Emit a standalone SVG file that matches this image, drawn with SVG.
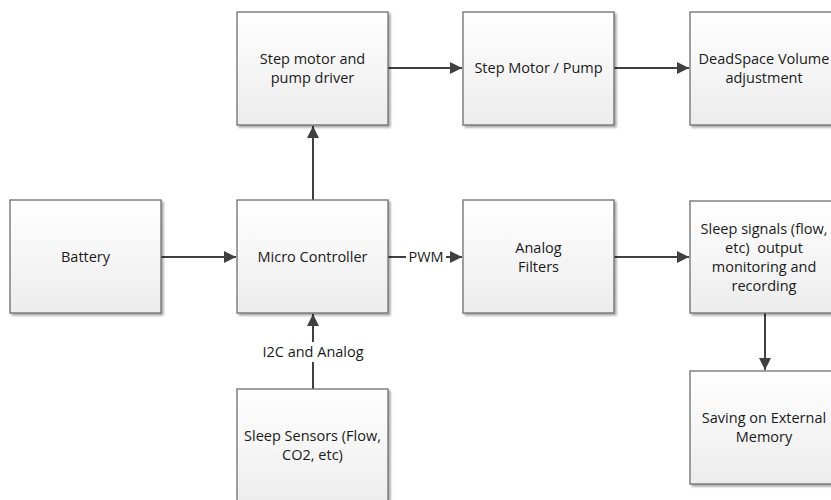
<svg xmlns="http://www.w3.org/2000/svg" width="831" height="500" viewBox="0 0 831 500">
<defs>
<linearGradient id="g" x1="0" y1="0" x2="0" y2="1">
<stop offset="0" stop-color="#ffffff"/>
<stop offset="1" stop-color="#ececec"/>
</linearGradient>
<filter id="sh" x="-10%" y="-10%" width="130%" height="130%">
<feGaussianBlur in="SourceAlpha" stdDeviation="1.2"/>
<feOffset dx="1.5" dy="1.5" result="b"/>
<feComponentTransfer><feFuncA type="linear" slope="0.35"/></feComponentTransfer>
<feMerge><feMergeNode/><feMergeNode in="SourceGraphic"/></feMerge>
</filter>
<marker id="a" viewBox="0 0 10 10" refX="10" refY="5" markerWidth="6" markerHeight="6" orient="auto" markerUnits="strokeWidth">
<path d="M0,0 L10,5 L0,10 z" fill="#404040"/>
</marker>
</defs>
<style>
.box{fill:url(#g);stroke:#6e6e6e;stroke-width:1.3;filter:url(#sh)}
.t{font-family:"Open Sans","Liberation Sans",sans-serif;font-size:14.5px;fill:#1a1a1a;text-anchor:middle}
.c{stroke:#404040;stroke-width:2;fill:none;marker-end:url(#a)}
</style>
<rect width="831" height="500" fill="#ffffff"/>
<g id="connectors">
<line class="c" x1="313" y1="200" x2="313" y2="126"/>
<line class="c" x1="388" y1="68" x2="462" y2="68"/>
<line class="c" x1="614" y1="68" x2="689" y2="68"/>
<line class="c" x1="161" y1="257" x2="236" y2="257"/>
<line class="c" x1="388" y1="257" x2="462" y2="257"/>
<line class="c" x1="614" y1="257" x2="689" y2="257"/>
<line class="c" x1="765" y1="313" x2="765" y2="370"/>
<line class="c" x1="313" y1="389" x2="313" y2="314"/>
<rect x="406" y="248" width="40" height="18" fill="#ffffff"/>
<text class="t" x="426" y="262">PWM</text>
<rect x="257" y="342" width="112" height="20" fill="#ffffff"/>
<text class="t" x="313" y="357">I2C and Analog</text>
</g>
<g id="driver"><rect class="box" x="237" y="12" width="151" height="113"/>
<text class="t" x="312.5" y="64">Step motor and</text><text class="t" x="312.5" y="83">pump driver</text></g>
<g id="pump"><rect class="box" x="463" y="12" width="151" height="113"/>
<text class="t" x="538.5" y="73">Step Motor / Pump</text></g>
<g id="deadspace"><rect class="box" x="690" y="12" width="151" height="113"/>
<text class="t" x="764" y="64">DeadSpace Volume</text><text class="t" x="764" y="83">adjustment</text></g>
<g id="battery"><rect class="box" x="10" y="200" width="151" height="113"/>
<text class="t" x="85.5" y="262">Battery</text></g>
<g id="micro"><rect class="box" x="237" y="200" width="151" height="113"/>
<text class="t" x="312.5" y="262">Micro Controller</text></g>
<g id="filters"><rect class="box" x="463" y="200" width="151" height="113"/>
<text class="t" x="538.5" y="253">Analog</text><text class="t" x="538.5" y="272">Filters</text></g>
<g id="signals"><rect class="box" x="690" y="201" width="151" height="112"/>
<text class="t" x="764" y="234">Sleep signals (flow,</text><text class="t" x="764" y="253" style="white-space:pre">etc)  output</text><text class="t" x="764" y="272">monitoring and</text><text class="t" x="764" y="291">recording</text></g>
<g id="saving"><rect class="box" x="690" y="371" width="151" height="113"/>
<text class="t" x="764" y="423">Saving on External</text><text class="t" x="764" y="442">Memory</text></g>
<g id="sensors"><rect class="box" x="237" y="389" width="151" height="120"/>
<text class="t" x="312.5" y="441">Sleep Sensors (Flow,</text><text class="t" x="312.5" y="460">CO2, etc)</text></g>
</svg>
